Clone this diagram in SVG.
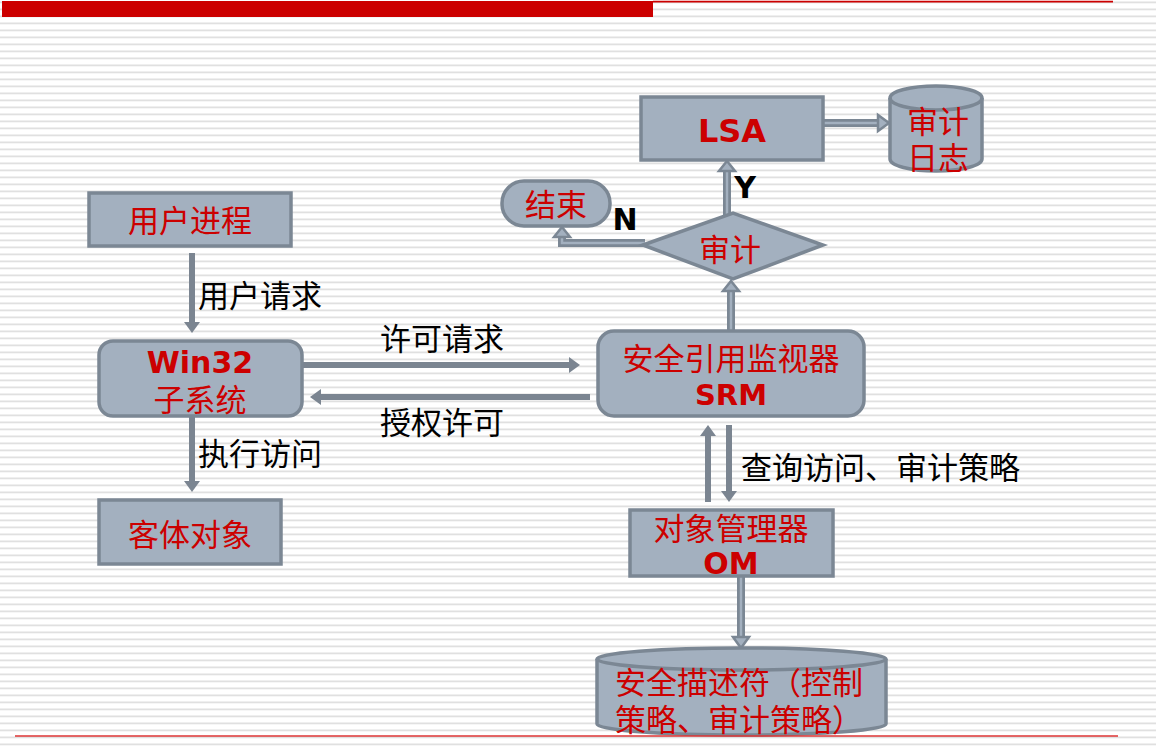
<svg xmlns="http://www.w3.org/2000/svg" width="1156" height="750" viewBox="0 0 1156 750">
<defs>
<pattern id="stripes" x="0" y="0" width="1156" height="7" patternUnits="userSpaceOnUse">
<rect x="0" y="1.5" width="1156" height="1.8" fill="#e0e0e0"/>
</pattern>
<style>
.box{fill:#a3b0bf;stroke:#7b8794;stroke-width:3.5}
.cj{font-family:"Noto Sans CJK SC","Noto Sans",sans-serif;font-size:31px}
.red{fill:#cc0000}
.blk{fill:#000}
.lat{font-family:"DejaVu Sans","Liberation Sans",sans-serif;font-weight:bold}
.sol{stroke:#7b8591;stroke-width:6;fill:none}
.solh{fill:#7b8591}
.hout{stroke:#7b8794;stroke-width:8;fill:none}
.hin{stroke:#a3b0bf;stroke-width:2.5;fill:none}
.hh{fill:#a3b0bf;stroke:#7b8794;stroke-width:2.5}
</style>
</defs>
<rect width="1156" height="750" fill="#ffffff"/>
<rect width="1156" height="750" fill="url(#stripes)"/>
<rect x="2" y="1" width="651" height="16" fill="#cc0000"/>
<line x1="653" y1="1.6" x2="1113" y2="1.6" stroke="#cc0000" stroke-width="1.6"/>

<g id="connectors">
<!-- 用户请求 -->
<line class="sol" x1="192" y1="253" x2="192" y2="324"/>
<polygon class="solh" points="184,322 200,322 192,333"/>
<!-- 执行访问 -->
<line class="sol" x1="192" y1="417" x2="192" y2="483"/>
<polygon class="solh" points="184,481 200,481 192,492"/>
<!-- 许可请求 -->
<line class="sol" x1="302" y1="365" x2="571" y2="365"/>
<polygon class="solh" points="569,357 569,373 580,365"/>
<!-- 授权许可 -->
<line class="sol" x1="590" y1="397" x2="319" y2="397"/>
<polygon class="solh" points="321,389 321,405 310,397"/>
<!-- SRM <-> OM -->
<line class="sol" x1="708" y1="502" x2="708" y2="434"/>
<polygon class="solh" points="700,436 716,436 708,425"/>
<line class="sol" x1="729" y1="425" x2="729" y2="493"/>
<polygon class="solh" points="721,491 737,491 729,502"/>
<!-- SRM -> 审计 -->
<line class="hout" x1="731" y1="331" x2="731" y2="288"/>
<line class="hin" x1="731" y1="331" x2="731" y2="288"/>
<polygon class="hh" points="723,291 739,291 731,281"/>
<!-- 审计 -> LSA (Y) -->
<line class="hout" x1="727" y1="215" x2="727" y2="168"/>
<line class="hin" x1="727" y1="215" x2="727" y2="168"/>
<polygon class="hh" points="719,171 735,171 727,161"/>
<!-- 审计 -> 结束 (N) -->
<path class="hout" d="M645,243 H562 V235"/>
<path class="hin" d="M645,243 H562 V235"/>
<polygon class="hh" points="554,237 570,237 562,227"/>
<!-- LSA -> 审计日志 -->
<line class="hout" x1="823" y1="123" x2="879" y2="123"/>
<line class="hin" x1="823" y1="123" x2="879" y2="123"/>
<polygon class="hh" points="878,115 878,131 889,123"/>
<!-- OM -> 安全描述符 -->
<line class="hout" x1="741" y1="576" x2="741" y2="638"/>
<line class="hin" x1="741" y1="576" x2="741" y2="638"/>
<polygon class="hh" points="733,637 749,637 741,648"/>
</g>

<g id="labels">
<text class="cj blk" x="198" y="307">用户请求</text>
<text class="cj blk" x="198" y="465">执行访问</text>
<text class="cj blk" x="380" y="350">许可请求</text>
<text class="cj blk" x="380" y="434">授权许可</text>
<text class="cj blk" x="741" y="479">查询访问、审计策略</text>
<text class="lat blk" x="745" y="198" font-size="30" text-anchor="middle">Y</text>
<text class="lat blk" x="625" y="230" font-size="30" text-anchor="middle">N</text>
</g>

<g id="user-process">
<rect class="box" x="89" y="193" width="202" height="53"/>
<text class="cj red" x="190" y="232" text-anchor="middle">用户进程</text>
</g>

<g id="win32">
<rect class="box" x="99" y="341" width="203" height="75" rx="14"/>
<text class="lat red" x="200" y="373" font-size="30" text-anchor="middle">Win32</text>
<text class="cj red" x="200" y="411" text-anchor="middle">子系统</text>
</g>

<g id="object">
<rect class="box" x="99" y="500" width="182" height="64"/>
<text class="cj red" x="190" y="546" text-anchor="middle">客体对象</text>
</g>

<g id="srm">
<rect class="box" x="598" y="331" width="266" height="85" rx="16"/>
<text class="cj red" x="731" y="370" text-anchor="middle">安全引用监视器</text>
<text class="lat red" x="731" y="405" font-size="29" text-anchor="middle">SRM</text>
</g>

<g id="om">
<rect class="box" x="630" y="510" width="203" height="66"/>
<text class="cj red" x="731" y="540" text-anchor="middle">对象管理器</text>
<text class="lat red" x="731" y="574" font-size="30" text-anchor="middle">OM</text>
</g>

<g id="audit">
<polygon class="box" points="643,245 733,213 823,245 733,279"/>
<text class="cj red" x="730" y="261" text-anchor="middle">审计</text>
</g>

<g id="end">
<rect class="box" x="502" y="181" width="108" height="45" rx="22"/>
<text class="cj red" x="556" y="216" text-anchor="middle">结束</text>
</g>

<g id="lsa">
<rect class="box" x="641" y="97" width="182" height="63"/>
<text class="lat red" x="732" y="142" font-size="32" text-anchor="middle">LSA</text>
</g>

<g id="audit-log">
<path class="box" d="M890,98 A46,12 0 0 1 982,98 V159 A46,12 0 0 1 890,159 Z"/>
<path d="M890,98 A46,12 0 0 0 982,98" fill="none" stroke="#7b8794" stroke-width="3.5"/>
<text class="cj red" x="907" y="133">审计</text>
<text class="cj red" x="907" y="169">日志</text>
</g>

<g id="security-descriptor">
<path class="box" d="M597,659 A144.5,11 0 0 1 886,659 V724 A144.5,11 0 0 1 597,724 Z"/>
<path d="M597,659 A144.5,11 0 0 0 886,659" fill="none" stroke="#7b8794" stroke-width="3.5"/>
<line x1="15" y1="736" x2="1118" y2="736" stroke="#dd3333" stroke-width="1.6"/>
<text class="cj red" x="615" y="694">安全描述符（控制</text>
<text class="cj red" x="615" y="731">策略、审计策略）</text>
</g>
</svg>
